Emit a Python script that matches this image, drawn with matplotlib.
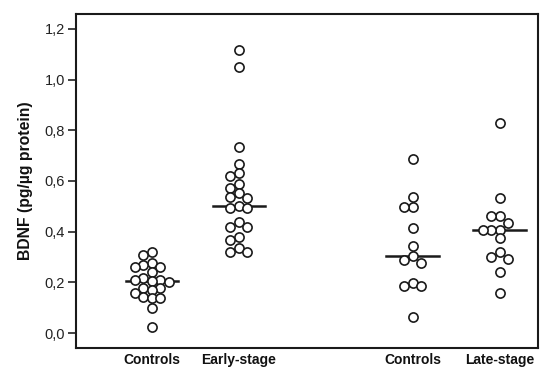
import numpy as np
import matplotlib.pyplot as plt
from matplotlib.ticker import FuncFormatter

plt.rcParams['font.family'] = ['Liberation Sans', 'DejaVu Sans']

groups = ["Controls", "Early-stage", "Controls", "Late-stage"]
xpos = [1, 2, 4, 5]

controls_early = [0.321, 0.308, 0.275, 0.268, 0.262, 0.262, 0.240, 0.218,
                  0.210, 0.210, 0.205, 0.203, 0.176, 0.176, 0.170, 0.157,
                  0.143, 0.137, 0.137, 0.100, 0.022]
early_stage = [1.115, 1.051, 0.736, 0.667, 0.633, 0.620, 0.588, 0.571,
               0.551, 0.538, 0.531, 0.500, 0.495, 0.495, 0.439, 0.420,
               0.420, 0.380, 0.367, 0.334, 0.321, 0.321]
controls_late = [0.686, 0.536, 0.499, 0.499, 0.413, 0.343, 0.305, 0.288,
                 0.275, 0.199, 0.187, 0.187, 0.062]
late_stage = [0.828, 0.532, 0.462, 0.462, 0.433, 0.407, 0.407, 0.407,
              0.374, 0.321, 0.301, 0.292, 0.242, 0.159]
medians = [0.205, 0.500, 0.305, 0.405]

all_data = [controls_early, early_stage, controls_late, late_stage]

fig = plt.figure(figsize=(5.4, 3.67), dpi=100)
ax = fig.add_axes([0.1407, 0.0518, 0.8553, 0.9101])
ax.set_xlim(0.13, 5.44)
ax.set_ylim(-0.059, 1.259)


def swarm(vals, px_per_y=253.0, slot_px=8.5, diam_px=8.0):
    # simple beeswarm: put each point in the first free column
    placed = []
    out = []
    for v in vals:
        for s in [0, -1, 1, -2, 2, -3, 3]:
            ok = True
            for (ps, pv) in placed:
                dx = (s - ps) * slot_px
                dy = (v - pv) * px_per_y
                if np.hypot(dx, dy) < diam_px:
                    ok = False
                    break
            if ok:
                placed.append((s, v))
                out.append(s)
                break
    return np.array(out)


slot = 8.5 / 87.0
for x, vals, med in zip(xpos, all_data, medians):
    offs = swarm(vals) * slot
    ax.plot(x + offs, vals, 'o', ms=6.6, mfc='white', mec='#1a1a1a', mew=1.2,
            linestyle='none', zorder=3)
    ax.plot([x - 0.3, x + 0.3], [med, med], color='#1a1a1a', lw=1.8, zorder=2)

ax.set_yticks([0.0, 0.2, 0.4, 0.6, 0.8, 1.0, 1.2])
ax.yaxis.set_major_formatter(FuncFormatter(lambda v, p: f"{v:.1f}".replace('.', ',')))
ax.set_xticks(xpos)
ax.set_xticklabels(groups, fontsize=10, fontweight='bold', color='#111111')
ax.tick_params(axis='x', length=0, pad=3.5)
ax.tick_params(axis='y', length=6, width=1.2, labelsize=10.5, colors='#222222', pad=2)
ax.set_ylabel("BDNF (pg/µg protein)", fontsize=11.3, fontweight='bold', color='#111111',
              labelpad=8)
for sp in ax.spines.values():
    sp.set_linewidth(1.5)
    sp.set_color('#1a1a1a')

fig.savefig("out.png", dpi=100)
